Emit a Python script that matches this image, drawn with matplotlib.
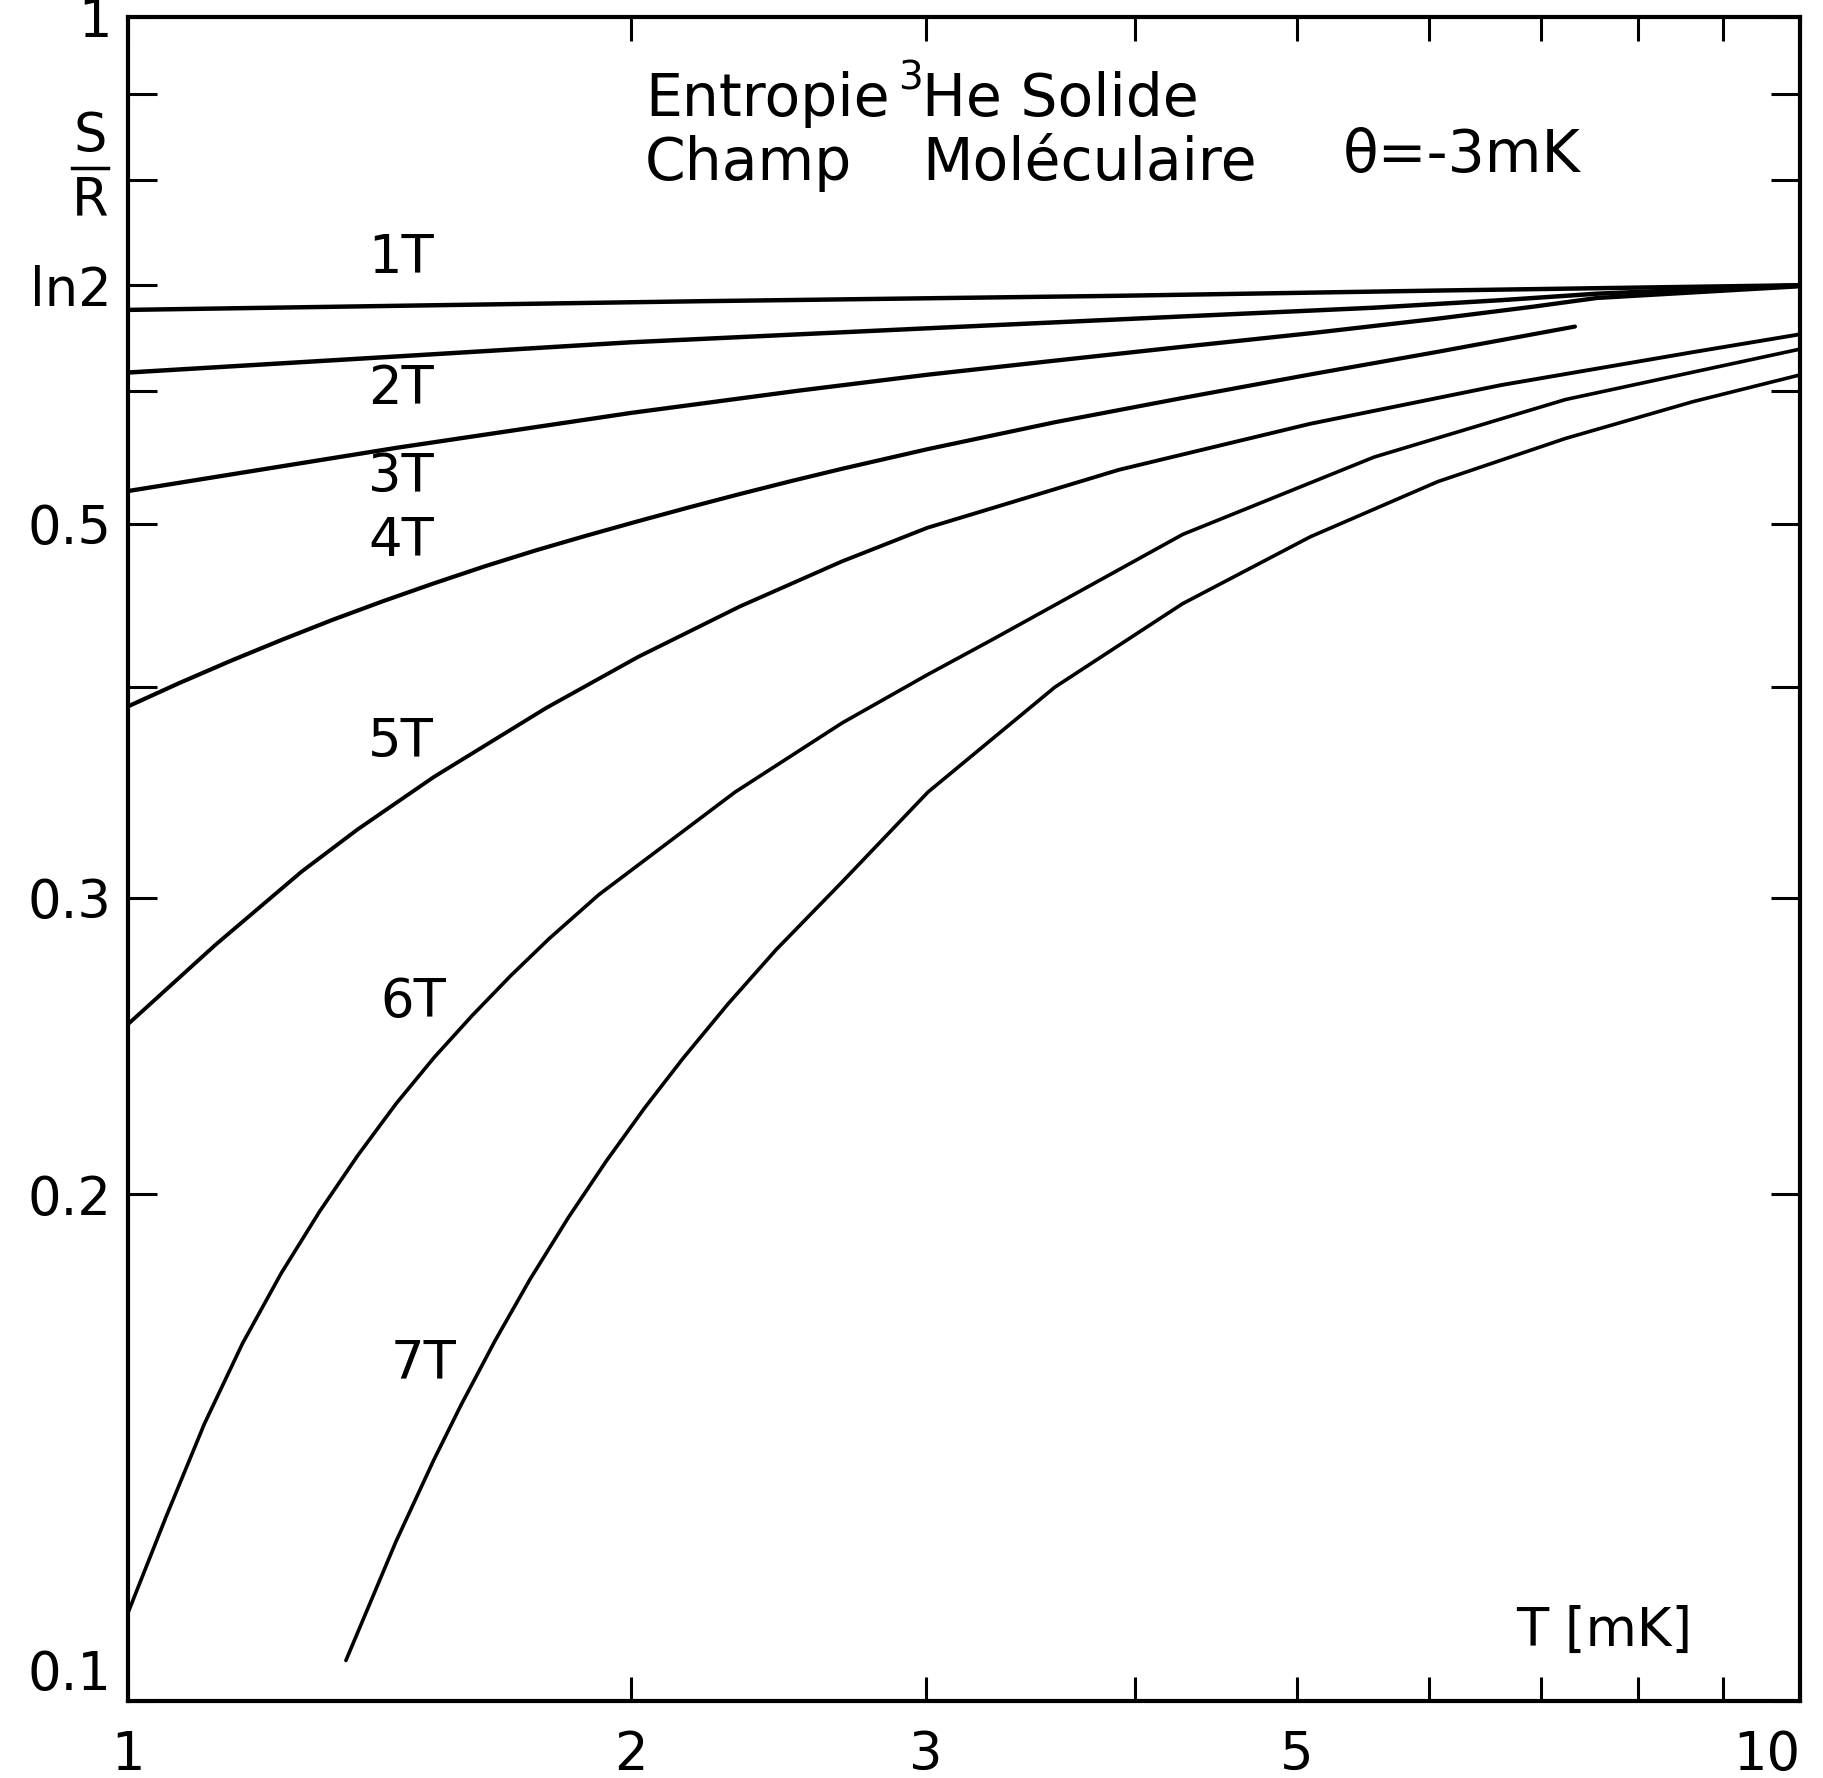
import numpy as np
import matplotlib
matplotlib.use("Agg")
import matplotlib.pyplot as plt
from matplotlib.lines import Line2D
from matplotlib.ticker import NullLocator

# values: S/R against T [mK], one curve per field
T_1T = [1.0, 2.2, 3.9, 6.1, 10.0]
S_1T = [0.670, 0.678, 0.683, 0.688, 0.693]

T_2T = [1.0, 1.5, 2.0, 2.52, 3.28, 4.27, 5.56, 6.63, 7.56, 10.0]
S_2T = [0.615, 0.630, 0.641, 0.648, 0.656, 0.664, 0.672, 0.679, 0.685, 0.693]

T_3T = [1.0, 1.45, 2.0, 2.52, 3.0, 3.58, 4.27, 5.1, 6.07, 6.93, 7.56, 10.0]
S_3T = [0.523, 0.555, 0.582, 0.600, 0.613, 0.625, 0.637, 0.649, 0.662, 0.673,
        0.681, 0.692]

T_4T = [1.0, 1.073, 1.151, 1.235, 1.325, 1.421, 1.524, 1.635, 1.754, 1.882,
        2.019, 2.166, 2.323, 2.493, 2.674, 3.007, 3.584, 4.274, 5.095, 6.073, 7.335]
S_4T = [0.3896, 0.4022, 0.4145, 0.4266, 0.4385, 0.4499, 0.4610, 0.4719, 0.4823,
        0.4922, 0.5019, 0.5115, 0.5209, 0.5302, 0.5392, 0.5538, 0.5746, 0.5940,
        0.6134, 0.6327, 0.6549]

T_5T = [1.0, 1.127, 1.270, 1.372, 1.524, 1.779, 2.019, 2.323, 2.674, 3.007,
        3.914, 5.095, 6.63, 8.63, 10.0]
S_5T = [0.2523, 0.2810, 0.3108, 0.3293, 0.3538, 0.3888, 0.4169, 0.4467, 0.4751,
        0.4974, 0.5384, 0.5734, 0.6046, 0.6324, 0.6480]

T_6T = [1.0, 1.008, 1.054, 1.111, 1.171, 1.235, 1.302, 1.372, 1.446, 1.524,
        1.607, 1.694, 1.786, 1.912, 2.307, 2.674, 3.009, 3.283, 4.274, 5.564,
        7.24, 10.0]
S_6T = [0.1128, 0.1151, 0.1287, 0.1461, 0.1631, 0.1795, 0.1953, 0.2108, 0.2262,
        0.2410, 0.2554, 0.2696, 0.2836, 0.3011, 0.3465, 0.3809, 0.4070, 0.4265,
        0.4929, 0.5479, 0.5927, 0.6350]

T_7T = [1.350, 1.446, 1.524, 1.582, 1.658, 1.739, 1.834, 1.932, 2.037, 2.147,
        2.285, 2.441, 2.674, 3.009, 3.584, 4.274, 5.095, 6.073, 7.24, 8.63, 10.0]
S_7T = [0.1057, 0.1243, 0.1391, 0.1499, 0.1637, 0.1779, 0.1937, 0.2092, 0.2250,
        0.2407, 0.2594, 0.2793, 0.3065, 0.3465, 0.4000, 0.4484, 0.4913, 0.5298,
        0.5620, 0.5910, 0.6130]

curves = [(T_1T, S_1T), (T_2T, S_2T), (T_3T, S_3T), (T_4T, S_4T),
          (T_5T, S_5T), (T_6T, S_6T), (T_7T, S_7T)]
line_widths = [3.2, 3.2, 3.1, 3.0, 2.8, 2.6, 2.6]

field_labels = ["1T", "2T", "3T", "4T", "5T", "6T", "7T"]
# label centres in figure pixels (x, y from top)
label_pos = [(401, 258), (401, 389), (401, 477), (401, 541),
             (401, 742), (413, 1002), (424, 1363)]

x_ticks = [1, 2, 3, 4, 5, 6, 7, 8, 9, 10]
x_ticklabels = ["1", "2", "3", "", "5", "", "", "", "", "10"]
y_ticks = [0.1, 0.2, 0.3, 0.4, 0.5, 0.6, np.log(2), 0.8, 0.9, 1.0]
y_ticklabels = ["0.1", "0.2", "0.3", "", "0.5", "", "ln2", "", "", "1"]

W, H = 1823, 1778
plt.rcParams["font.family"] = ["DejaVu Sans"]

fig = plt.figure(figsize=(W / 100, H / 100), dpi=100)
ax = fig.add_axes([128 / W, 1 - 1701 / H, (1800 - 128) / W, (1701 - 17) / H])

for (t, s), lw in zip(curves, line_widths):
    ax.plot(t, s, color="black", lw=lw, solid_joinstyle="round",
            solid_capstyle="round")

ax.set_xscale("log")
ax.set_yscale("log")
ax.set_xlim(1, 10)
ax.set_ylim(0.1, 1)

ax.xaxis.set_minor_locator(NullLocator())
ax.yaxis.set_minor_locator(NullLocator())
ax.set_xticks(x_ticks)
ax.set_xticklabels(x_ticklabels)
ax.set_yticks(y_ticks)
ax.set_yticklabels(y_ticklabels)
ax.get_xticklabels()[-1].set_horizontalalignment("right")
ax.get_yticklabels()[0].set_verticalalignment("bottom")

ax.tick_params(axis="both", direction="in", top=True, right=True,
               width=2.2, labelsize=38, color="black")
ax.tick_params(axis="y", length=21, pad=12)
ax.tick_params(axis="x", length=17, pad=20)
for sp in ax.spines.values():
    sp.set_linewidth(3)


def px(x, y):
    return x / W, 1 - y / H


# field labels
for lab, (lx, ly) in zip(field_labels, label_pos):
    fig.text(*px(lx, ly), lab, fontsize=38, ha="center", va="center")

# heading
fig.text(*px(645, 116), "Entropie", fontsize=42, va="baseline")
fig.text(*px(898, 90), "3", fontsize=28, va="baseline")
fig.text(*px(922, 116), "He Solide", fontsize=42, va="baseline")
fig.text(*px(645, 180), "Champ", fontsize=42, va="baseline")
fig.text(*px(922, 180), "Moléculaire", fontsize=42, va="baseline")
fig.text(*px(1343, 172), "θ=-3mK", fontsize=42, va="baseline")

# S/R axis label
fig.text(*px(90, 136), "S", fontsize=38, ha="center", va="center")
fig.text(*px(90, 200), "R", fontsize=38, ha="center", va="center")
fig.add_artist(Line2D([72 / W, 108 / W], [1 - 168 / H, 1 - 168 / H],
                      color="black", lw=2.5))

# x axis label inside the frame
fig.text(*px(1604, 1631), "T [mK]", fontsize=38, ha="center", va="center")

fig.savefig("out.png", dpi=100, facecolor="white")
